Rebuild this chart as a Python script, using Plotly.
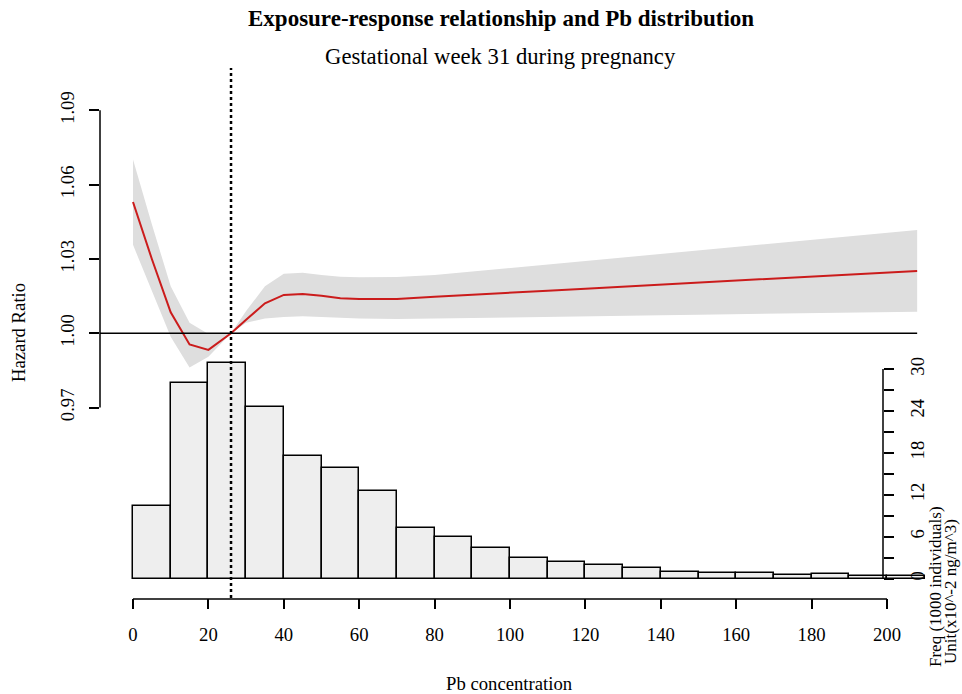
import plotly.graph_objects as go

# ---------------- data ----------------
x_vals = [0, 5, 10, 15, 20, 26, 30, 35, 40, 45, 50, 55, 60, 70, 80, 90, 100,
          110, 120, 130, 140, 150, 160, 170, 180, 190, 200, 208]
hr = [1.053, 1.030, 1.0085, 0.9955, 0.9933, 1.000, 1.0055, 1.0121, 1.0155, 1.0159,
      1.0152, 1.0142, 1.0138, 1.0138, 1.0148, 1.0155, 1.0165, 1.0172, 1.0180,
      1.0188, 1.0197, 1.0205, 1.0213, 1.0220, 1.0229, 1.0237, 1.0245, 1.0252]
upper = [1.0702, 1.0440, 1.0190, 1.0043, 0.9997, 1.000, 1.0090, 1.0190, 1.0240,
         1.0244, 1.0235, 1.0228, 1.0226, 1.0227, 1.0235, 1.0249, 1.0263, 1.0278,
         1.0292, 1.0306, 1.0320, 1.0334, 1.0349, 1.0363, 1.0377, 1.0391, 1.0405, 1.0417]
lower = [1.0357, 1.0170, 0.9986, 0.9862, 0.9905, 1.000, 1.0043, 1.0060, 1.0066,
         1.0069, 1.0067, 1.0063, 1.0060, 1.0058, 1.0060, 1.0062, 1.0064, 1.0066,
         1.0068, 1.0070, 1.0073, 1.0075, 1.0077, 1.0079, 1.0081, 1.0083, 1.0085, 1.0087]

bin_left = [0, 10, 20, 30, 40, 50, 60, 70, 80, 90, 100, 110, 120, 130, 140,
            150, 160, 170, 180, 190, 200]
freq = [10.4, 28.0, 30.9, 24.6, 17.6, 15.8, 12.6, 7.2, 5.9, 4.3, 2.9, 2.3, 1.9,
        1.5, 1.0, 0.8, 0.8, 0.5, 0.7, 0.4, 0.3]

ref_x = 26
hr_ticks = [0.97, 1.00, 1.03, 1.06, 1.09]
x_ticks = [0, 20, 40, 60, 80, 100, 120, 140, 160, 180, 200]
freq_ticks = [0, 3, 6, 9, 12, 15, 18, 21, 24, 27, 30]
freq_labels = ["0", "", "6", "", "12", "", "18", "", "24", "", "30"]

title = "Exposure-response relationship and Pb distribution"
subtitle = "Gestational week 31 during pregnancy"

# ---------------- layout geometry ----------------
W, H = 962, 694
L, R, T, B = 100, 950, 68, 598
x0px, x200px = 133, 887
ppu = (x200px - x0px) / 200.0
xr = [(L - x0px) / ppu, (R - x0px) / ppu]
hr1px, hrppu = 333.3, 2477.0
yr_hr = [1 + (hr1px - B) / hrppu, 1 + (hr1px - T) / hrppu]
f0px, fppu = 578.5, 6.98
yr_f = [(f0px - B) / fppu, (f0px - T) / fppu]
pw, ph = R - L, B - T

def px2px(x):
    return (x - L) / pw

def py2py(y):
    return (B - y) / ph

FONT = "Liberation Serif"
FS = 18.7
RED = "#CB1C1C"

fig = go.Figure()

# histogram (main y axis, drawn beneath)
fig.add_trace(go.Bar(
    x=[b + 5 for b in bin_left], y=freq, width=10,
    marker=dict(color="#EEEEEE", line=dict(color="black", width=1.5)),
    yaxis="y", xaxis="x", showlegend=False, hoverinfo="skip"))

# confidence band
fig.add_trace(go.Scatter(
    x=x_vals + x_vals[::-1], y=upper + lower[::-1], fill="toself",
    fillcolor="#DEDEDE", line=dict(width=0), mode="lines",
    yaxis="y2", showlegend=False, hoverinfo="skip"))
# red curve
fig.add_trace(go.Scatter(
    x=x_vals, y=hr, mode="lines", line=dict(color=RED, width=2),
    yaxis="y2", showlegend=False))

shapes = [
    dict(type="line", xref="x", yref="y2", x0=xr[0], x1=x_vals[-1], y0=1, y1=1,
         line=dict(color="black", width=1.5)),
    dict(type="line", xref="x", yref="paper", x0=ref_x, x1=ref_x, y0=0, y1=1,
         line=dict(color="black", width=2.5, dash="dot")),
    dict(type="line", xref="paper", yref="y2", x0=0, x1=0, y0=hr_ticks[0], y1=hr_ticks[-1],
         line=dict(color="black", width=1.5)),
    dict(type="line", xref="x", yref="paper", x0=x_ticks[0], x1=x_ticks[-1],
         y0=-1.0 / ph, y1=-1.0 / ph, line=dict(color="black", width=1.5)),
    dict(type="line", xref="paper", yref="y", x0=px2px(883), x1=px2px(883),
         y0=freq_ticks[0], y1=freq_ticks[-1], line=dict(color="black", width=1.5)),
]

annotations = [
    dict(text="<b>" + title + "</b>", xref="paper", yref="paper",
         x=px2px(501), y=py2py(19), showarrow=False, xanchor="center", yanchor="middle",
         font=dict(family=FONT, size=23, color="black")),
    dict(text=subtitle, xref="paper", yref="paper",
         x=px2px(500), y=py2py(57), showarrow=False, xanchor="center", yanchor="middle",
         font=dict(family=FONT, size=22.7, color="black")),
    dict(text="Pb concentration", xref="paper", yref="paper",
         x=px2px(509), y=py2py(683), showarrow=False, xanchor="center", yanchor="middle",
         font=dict(family=FONT, size=FS, color="black")),
    dict(text="Hazard Ratio", xref="paper", yref="paper", textangle=-90,
         x=px2px(18), y=py2py(333), showarrow=False, xanchor="center", yanchor="middle",
         font=dict(family=FONT, size=FS, color="black")),
    dict(text="Freq (1000 individuals)", xref="paper", yref="paper", textangle=-90,
         x=px2px(935), y=py2py(587), showarrow=False, xanchor="center", yanchor="middle",
         font=dict(family=FONT, size=17, color="black")),
    dict(text="Unit(x10^-2 ng/m^3)", xref="paper", yref="paper", textangle=-90,
         x=px2px(950), y=py2py(592), showarrow=False, xanchor="center", yanchor="middle",
         font=dict(family=FONT, size=17, color="black")),
]

fig.update_layout(
    width=W, height=H, plot_bgcolor="white", paper_bgcolor="white",
    margin=dict(l=L, r=W - R, t=T, b=H - B, pad=0),
    bargap=0, showlegend=False,
    font=dict(family=FONT, size=FS, color="black"),
    xaxis=dict(range=xr, showgrid=False, zeroline=False, showline=False,
               tickmode="array", tickvals=x_ticks, ticks="outside", ticklen=10,
               tickwidth=1.5, tickcolor="black", ticklabelstandoff=10,
               tickfont=dict(family=FONT, size=FS, color="black")),
    yaxis=dict(range=yr_f, side="right", anchor="free", position=px2px(883),
               showgrid=False, zeroline=False, showline=False,
               tickmode="array", tickvals=freq_ticks, ticktext=freq_labels,
               ticks="outside", ticklen=10, tickwidth=1.5, tickcolor="black",
               tickangle=-90, ticklabelstandoff=8,
               tickfont=dict(family=FONT, size=FS, color="black")),
    yaxis2=dict(range=yr_hr, overlaying="y", side="left", anchor="x",
                showgrid=False, zeroline=False, showline=False,
                tickmode="array", tickvals=hr_ticks,
                ticktext=["%.2f" % v for v in hr_ticks],
                ticks="outside", ticklen=10, tickwidth=1.5, tickcolor="black",
                tickangle=-90, ticklabelstandoff=8,
                tickfont=dict(family=FONT, size=FS, color="black")),
    shapes=shapes, annotations=annotations,
)

fig.write_html("out.html")
